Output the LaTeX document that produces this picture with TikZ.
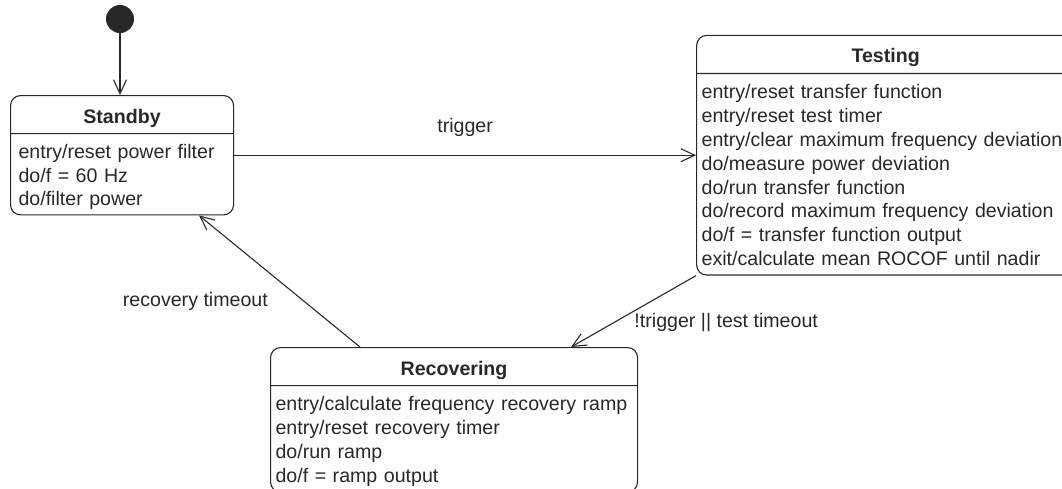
\documentclass[tikz,border=0pt]{standalone}
\usepackage{fontspec}
\setmainfont{Liberation Sans}
\usepackage{xcolor}
\usepackage{tikz}
\usetikzlibrary{shapes.multipart, arrows.meta, positioning}
\definecolor{umlink}{RGB}{40, 40, 40}
\newcommand{\act}{\rule[-4pt]{0pt}{23pt}}
\newcommand{\sttitle}[1]{{\centering\rule[-5pt]{0pt}{27pt}\textbf{#1}\par}}

\begin{document}
\begin{tikzpicture}[
    x=1pt, y=-1pt,
    every node/.style={font=\fontsize{19.6}{23}\selectfont, text=umlink},
    state/.style={rectangle split, rectangle split parts=2, draw=umlink, line width=1.1pt, rounded corners=10pt, align=left, inner xsep=8pt, inner ysep=5pt},
    trans/.style={draw=umlink, line width=1.1pt, -{Straight Barb[length=14pt, width=13pt]}}
]
\useasboundingbox (0,0) rectangle (1062,488);
\clip (0,0) rectangle (1062,488);
\node[circle, fill=umlink, minimum size=28pt, inner sep=0pt] (init) at (120,19) {};
\node[state, text width=207pt, anchor=north west] (standby) at (10,95) {\sttitle{Standby}\nodepart{two}\act entry/reset power filter\\\act do/f = 60 Hz\\\act do/filter power};
\node[state, text width=368pt, inner xsep=5pt, right=462pt of standby] (testing) {\sttitle{Testing}\nodepart{two}\act entry/reset transfer function\\\act entry/reset test timer\\\act entry/clear maximum frequency deviation\\\act do/measure power deviation\\\act do/run transfer function\\\act do/record maximum frequency deviation\\\act do/f = transfer function output\\\act exit/calculate mean ROCOF until nadir};
\node[state, text width=357pt, inner xsep=5pt, anchor=north west] (recovering) at (270,347) {\sttitle{Recovering}\nodepart{two}\act entry/calculate frequency recovery ramp\\\act entry/reset recovery timer\\\act do/run ramp\\\act do/f = ramp output};
% transitions
\draw[trans] (init) -- (init |- standby.north);
\draw[trans] (standby.east) -- node[above=15pt] {trigger} (standby.east -| testing.west);
\draw[trans] (testing.south west) -- node[pos=0.66, anchor=west, xshift=17pt] {!trigger || test timeout} ([xshift=-67pt]recovering.north east);
\draw[trans] ([xshift=90pt]recovering.north west) -- node[pos=0.35, anchor=east, xshift=-32pt] {recovery timeout} ([xshift=-35pt]standby.south east);
\end{tikzpicture}
\end{document}
